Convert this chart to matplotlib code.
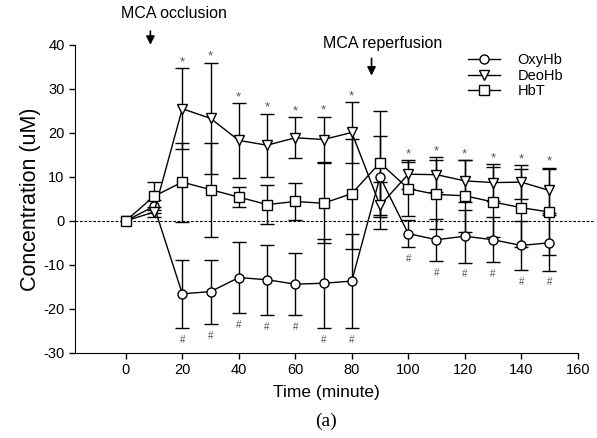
import numpy as np
import matplotlib
matplotlib.use('Agg')
import matplotlib.pyplot as plt
from matplotlib.lines import Line2D

plt.rcParams['font.family'] = ['Liberation Sans', 'DejaVu Sans']
plt.rcParams['axes.unicode_minus'] = False

# time points (minute)
time = np.array([0, 10, 20, 30, 40, 50, 60, 70, 80, 90, 100, 110, 120, 130, 140, 150])

# mean values (uM) and SD
oxy = np.array([0, 3.3, -16.6, -16.1, -12.9, -13.4, -14.4, -14.2, -13.7, 10.0, -2.9, -4.3, -3.5, -4.3, -5.6, -5.0])
oxy_err = np.array([0, 1.5, 7.7, 7.3, 8.0, 8.0, 7.0, 10.1, 10.6, 9.2, 3.0, 4.8, 6.0, 5.1, 5.6, 6.3])
deo = np.array([0, 2.0, 25.5, 23.3, 18.3, 17.2, 18.9, 18.5, 20.1, 3.5, 10.6, 10.5, 9.1, 8.7, 8.8, 6.9])
deo_err = np.array([0, 1.2, 9.2, 12.7, 8.5, 7.2, 4.7, 5.2, 7.0, 5.3, 3.3, 4.0, 4.8, 4.3, 3.9, 5.2])
hbt = np.array([0, 5.6, 8.8, 7.1, 5.4, 3.7, 4.4, 4.0, 6.2, 13.2, 7.3, 6.0, 5.7, 4.3, 3.0, 2.0])
hbt_err = np.array([0, 3.2, 9.0, 10.7, 2.3, 4.5, 4.1, 9.1, 12.5, 11.8, 6.1, 7.9, 8.2, 7.9, 8.9, 9.8])

# time points marked significant (* for DeoHb, # for OxyHb)
sig_times = [20, 30, 40, 50, 60, 70, 80, 100, 110, 120, 130, 140, 150]

series = [
    ('OxyHb', oxy, oxy_err, 'o'),
    ('DeoHb', deo, deo_err, 'v'),
    ('HbT', hbt, hbt_err, 's'),
]

fig = plt.figure(figsize=(5.97, 4.38), dpi=100)
ax = fig.add_axes([0.1256, 0.1947, 0.8421, 0.7026])

handles = []
for name, val, err, mk in series:
    ax.errorbar(time[1:], val[1:], yerr=err[1:], fmt='none', ecolor='black',
                elinewidth=1, capsize=4.7, capthick=1, zorder=2)
    ax.plot(time, val, color='black', lw=1, marker=mk, ms=6.5,
            mfc='white', mec='black', mew=1, zorder=3)
    handles.append(Line2D([], [], color='black', lw=1, marker=mk, ms=6.5,
                          mfc='white', mec='black', mew=1))

# zero reference line
ax.plot([0, 1.03], [0, 0], transform=ax.get_yaxis_transform(), color='black',
        lw=0.8, ls=(0, (2.5, 1.5)), clip_on=False, zorder=1)

# significance marks
for t in sig_times:
    i = list(time).index(t)
    ax.text(t, deo[i] + deo_err[i] + 1.3, '*', ha='center', va='center',
            fontsize=9.5, color='#555555')
    ax.text(t, oxy[i] - oxy_err[i] - 2.7, '#', ha='center', va='center',
            fontsize=7, color='#555555')

# event annotations
ax.text(17, 46.1, 'MCA occlusion', ha='center', va='baseline', fontsize=11.5,
        clip_on=False)
ax.annotate('', xy=(8.7, 39.4), xytext=(8.7, 43.8), annotation_clip=False,
            arrowprops=dict(arrowstyle='-|>,head_width=0.25,head_length=0.5',
                            color='black', lw=1.2))
ax.text(91, 39.2, 'MCA reperfusion', ha='center', va='baseline', fontsize=11.5)
ax.annotate('', xy=(87, 32.4), xytext=(87, 37.6),
            arrowprops=dict(arrowstyle='-|>,head_width=0.25,head_length=0.5',
                            color='black', lw=1.2))

ax.set_xlim(-18, 160)
ax.set_ylim(-30, 40)
ax.set_xticks(np.arange(0, 161, 20))
ax.set_yticks(np.arange(-30, 41, 10))
ax.spines['top'].set_visible(False)
ax.spines['right'].set_visible(False)
ax.tick_params(direction='out', length=4, width=1, labelsize=10.5)
ax.set_xlabel('Time (minute)', fontsize=12.5, labelpad=6)
ax.set_ylabel('Concentration (uM)', fontsize=15.5, labelpad=2)

fig.legend(handles, [s[0] for s in series], loc='upper left',
           bbox_to_anchor=(0.784, 0.878), frameon=False, fontsize=10.5,
           handlelength=2.2, handletextpad=1.2, labelspacing=0.1,
           borderpad=0, borderaxespad=0)

fig.text(0.5456, 0.027, '(a)', ha='center', va='baseline', fontsize=14,
         family='Liberation Serif')

fig.savefig('out.png', dpi=100)
